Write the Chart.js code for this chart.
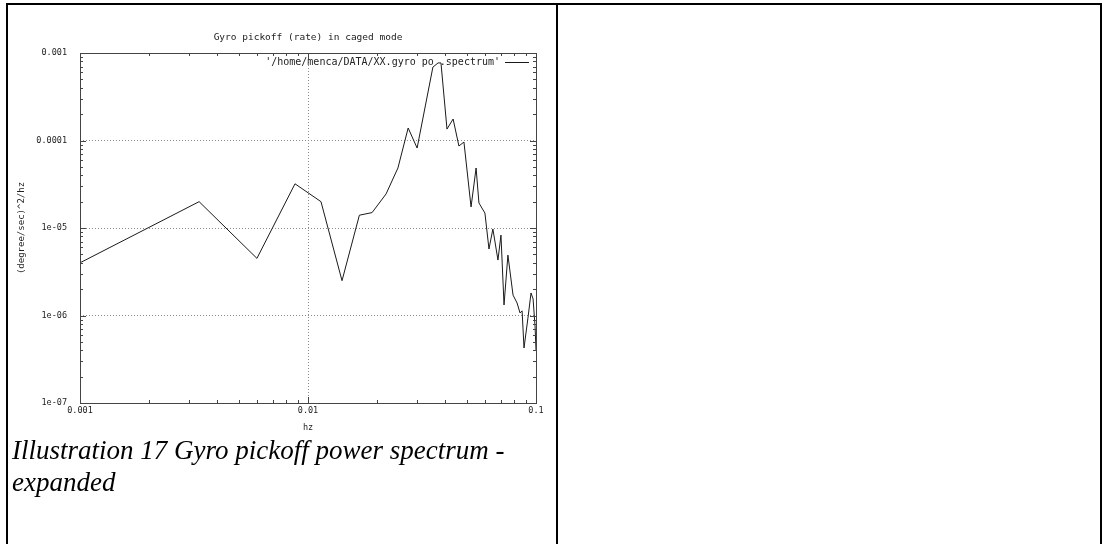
<!DOCTYPE html>
<html>
<head>
<meta charset="utf-8">
<script src="https://cdn.jsdelivr.net/npm/chart.js@4.4.1/dist/chart.umd.min.js"></script>
<style>
  body { margin: 0; background: #fff; width: 1107px; height: 544px; overflow: hidden; position: relative; }
  .rule { position: absolute; background: #000; z-index: 2; }
  #spectrum { position: absolute; left: 0; top: 0; z-index: 1; }
  .caption {
    position: absolute; left: 12px; top: 434px; z-index: 1;
    font-family: "Liberation Serif", "Times New Roman", serif;
    font-style: italic; font-size: 27px; line-height: 32px; color: #000;
  }
</style>
</head>
<body>
<div class="rule" style="left:6px; top:3px; width:1096px; height:2px;"></div>
<div class="rule" style="left:6px; top:3px; width:2px; height:541px;"></div>
<div class="rule" style="left:556px; top:3px; width:2px; height:541px;"></div>
<div class="rule" style="left:1100px; top:3px; width:2px; height:541px;"></div>

<canvas id="spectrum" width="560" height="445"></canvas>
<div class="caption">Illustration 17 Gyro pickoff power spectrum -<br>expanded</div>

<script>
// spectrum samples
const freqHz = [0.001, 0.00333, 0.00597, 0.00877, 0.0114, 0.0141, 0.0168, 0.0191, 0.0220, 0.0248,
  0.0275, 0.0301, 0.0353, 0.0372, 0.0383, 0.0407, 0.0433, 0.0459, 0.0483, 0.0519,
  0.0546, 0.0562, 0.0597, 0.0622, 0.0647, 0.0681, 0.0702, 0.0724, 0.0753, 0.0793,
  0.0826, 0.0851, 0.0869, 0.0886, 0.0923, 0.0951, 0.0971, 0.0991, 0.1];
const psd = [4.0e-6, 2.0e-5, 4.5e-6, 3.2e-5, 2.0e-5, 2.5e-6, 1.4e-5, 1.5e-5, 2.45e-5, 4.85e-5,
  1.39e-4, 8.2e-5, 6.9e-4, 7.7e-4, 7.7e-4, 1.35e-4, 1.76e-4, 8.65e-5, 9.6e-5, 1.74e-5,
  4.85e-5, 1.93e-5, 1.48e-5, 5.75e-6, 9.75e-6, 4.3e-6, 8.3e-6, 1.32e-6, 4.9e-6, 1.71e-6,
  1.39e-6, 1.07e-6, 1.13e-6, 4.25e-7, 9.6e-7, 1.81e-6, 1.55e-6, 7.4e-7, 4.0e-7];

const xTicks = [0.001, 0.01, 0.1];
const xTickLabels = ["0.001", "0.01", "0.1"];
const yTicks = [1e-7, 1e-6, 1e-5, 1e-4, 1e-3];
const yTickLabels = ["1e-07", "1e-06", "1e-05", "0.0001", "0.001"];
const seriesLabel = "'/home/menca/DATA/XX.gyro po .spectrum'";

const mono = "'DejaVu Sans Mono', monospace";
const ink = "#222";
const gridGray = "#8c8c8c";

// gnuplot style: ticks pointing inwards on every side, plus a full frame
const innerTicks = {
  id: "innerTicks",
  afterDatasetsDraw(chart) {
    const { ctx, chartArea: a, scales } = chart;
    ctx.save();
    ctx.strokeStyle = "#444";
    ctx.lineWidth = 1;
    ctx.beginPath();
    for (let d = -3; d < -1; d++) {
      for (let m = 1; m <= 10; m++) {
        const v = m * Math.pow(10, d);
        const x = Math.round(scales.x.getPixelForValue(v)) + 0.5;
        const len = (m === 1 || m === 10) ? 6 : 3;
        ctx.moveTo(x, a.bottom); ctx.lineTo(x, a.bottom - len);
        ctx.moveTo(x, a.top); ctx.lineTo(x, a.top + len);
      }
    }
    for (let d = -7; d < -3; d++) {
      for (let m = 1; m <= 10; m++) {
        const v = m * Math.pow(10, d);
        const y = Math.round(scales.y.getPixelForValue(v)) + 0.5;
        const len = (m === 1 || m === 10) ? 6 : 3;
        ctx.moveTo(a.left, y); ctx.lineTo(a.left + len, y);
        ctx.moveTo(a.right, y); ctx.lineTo(a.right - len, y);
      }
    }
    ctx.stroke();
    ctx.strokeRect(Math.round(a.left) + 0.5, Math.round(a.top) + 0.5,
      Math.round(a.right - a.left), Math.round(a.bottom - a.top));
    ctx.restore();
  }
};

// key in the top right corner: label text followed by a line sample
const keyBox = {
  id: "keyBox",
  afterDatasetsDraw(chart) {
    const { ctx, chartArea: a } = chart;
    const ds = chart.data.datasets[0];
    const y = a.top + 9.5;
    ctx.save();
    ctx.font = "10px " + mono;
    ctx.fillStyle = ink;
    ctx.textAlign = "right";
    ctx.textBaseline = "middle";
    ctx.fillText(ds.label, a.right - 36, y);
    ctx.strokeStyle = ds.borderColor;
    ctx.lineWidth = 1;
    ctx.beginPath();
    ctx.moveTo(a.right - 31, y);
    ctx.lineTo(a.right - 7, y);
    ctx.stroke();
    ctx.restore();
  }
};

new Chart(document.getElementById("spectrum"), {
  type: "scatter",
  data: {
    datasets: [{
      label: seriesLabel,
      data: freqHz.map((f, i) => ({ x: f, y: psd[i] })),
      showLine: true,
      borderColor: "#1a1a1a",
      borderWidth: 1,
      pointRadius: 0,
      tension: 0
    }]
  },
  options: {
    responsive: false,
    animation: false,
    layout: { padding: { left: 0, right: 24, top: 0, bottom: 0 } },
    plugins: {
      legend: { display: false },
      tooltip: { enabled: false },
      title: {
        display: true,
        fullSize: false,
        text: "Gyro pickoff (rate) in caged mode",
        color: ink,
        font: { family: mono, size: 9.5, weight: "normal" },
        padding: { top: 32, bottom: 9.6 }
      }
    },
    scales: {
      x: {
        type: "logarithmic",
        min: 0.001,
        max: 0.1,
        afterBuildTicks: s => { s.ticks = xTicks.map(v => ({ value: v })); },
        afterFit: s => { s.height = 42; },
        border: { display: false, dash: [1, 2] },
        grid: {
          drawTicks: false,
          color: c => (c.tick && c.tick.value === 0.01) ? gridGray : "rgba(0,0,0,0)",
          lineWidth: 1
        },
        ticks: {
          padding: 3,
          color: ink,
          maxRotation: 0,
          autoSkip: false,
          font: { family: mono, size: 8.5 },
          callback: v => xTickLabels[xTicks.indexOf(v)] ?? ""
        },
        title: {
          display: true,
          text: "hz",
          color: ink,
          font: { family: mono, size: 8.5 },
          padding: { top: 0, bottom: 12 }
        }
      },
      y: {
        type: "logarithmic",
        min: 1e-7,
        max: 1e-3,
        afterBuildTicks: s => { s.ticks = yTicks.map(v => ({ value: v })); },
        afterFit: s => { s.width = 80; },
        border: { display: false, dash: [1, 2] },
        grid: {
          drawTicks: false,
          color: c => (c.tick && c.tick.value > 1e-7 && c.tick.value < 1e-3) ? gridGray : "rgba(0,0,0,0)",
          lineWidth: 1
        },
        ticks: {
          padding: 13,
          color: ink,
          autoSkip: false,
          font: { family: mono, size: 8.5 },
          callback: v => {
            const i = yTicks.findIndex(t => Math.abs(t - v) / t < 1e-6);
            return i >= 0 ? yTickLabels[i] : "";
          }
        },
        title: {
          display: true,
          text: "(degree/sec)^2/hz",
          color: ink,
          font: { family: mono, size: 9 },
          padding: { top: 16, bottom: 0 }
        }
      }
    }
  },
  plugins: [innerTicks, keyBox]
});
</script>
</body>
</html>
